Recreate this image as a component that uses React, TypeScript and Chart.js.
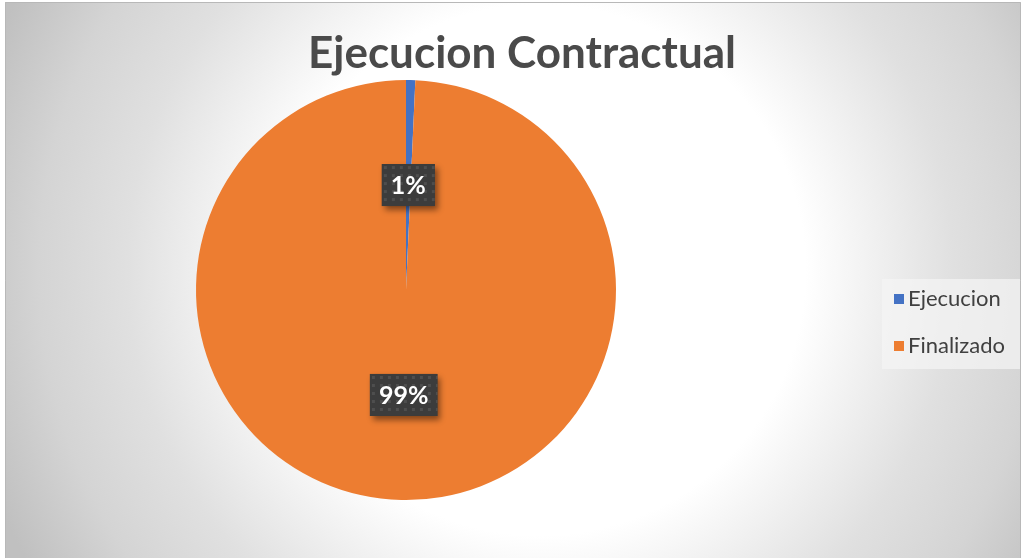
import React, { useEffect, useRef } from "react";
import { Chart, registerables } from "chart.js";

Chart.register(...registerables);

const categories = ["Ejecucion", "Finalizado"];
const seriesValues = [1, 140];
const sliceColors = ["#4472C4", "#ED7D31"];
const chartTitle = "Ejecucion Contractual";

const W = 1026;
const H = 558;

function makePattern(ctx: CanvasRenderingContext2D) {
  const c = document.createElement("canvas");
  c.width = 8;
  c.height = 8;
  const p = c.getContext("2d")!;
  p.fillStyle = "#3c3c3c";
  p.fillRect(0, 0, 8, 8);
  p.fillStyle = "#4e4e4e";
  p.fillRect(2, 2, 3, 3);
  return ctx.createPattern(c, "repeat");
}

const backgroundPlugin = {
  id: "bgPlugin",
  beforeDraw(chart: any) {
    const ctx: CanvasRenderingContext2D = chart.ctx;
    ctx.save();
    ctx.fillStyle = "#ffffff";
    ctx.fillRect(0, 0, W, H);
    const g = ctx.createRadialGradient(540, 270, 0, 540, 270, 590);
    g.addColorStop(0, "#ffffff");
    g.addColorStop(0.45, "#ffffff");
    g.addColorStop(0.7, "#e0e0e0");
    g.addColorStop(0.85, "#d4d4d4");
    g.addColorStop(1, "#c0c0c0");
    ctx.fillStyle = g;
    ctx.fillRect(5, 2, 1016, H - 2);
    ctx.strokeStyle = "#b8b8b8";
    ctx.lineWidth = 1;
    ctx.beginPath();
    ctx.moveTo(5.5, H);
    ctx.lineTo(5.5, 2.5);
    ctx.lineTo(1020.5, 2.5);
    ctx.lineTo(1020.5, H);
    ctx.stroke();
    ctx.restore();
  },
};

const overlayPlugin = {
  id: "overlayPlugin",
  afterDraw(chart: any) {
    const ctx: CanvasRenderingContext2D = chart.ctx;
    const meta = chart.getDatasetMeta(0);
    const data: number[] = chart.data.datasets[0].data;
    const total = data.reduce((a, b) => a + b, 0);
    const pattern = makePattern(ctx);

    // title
    ctx.save();
    ctx.fillStyle = "#4a4a4a";
    ctx.font = "bold 44px Lato, 'Open Sans', sans-serif";
    ctx.textAlign = "center";
    ctx.textBaseline = "middle";
    ctx.fillText(chartTitle, 522, 54);
    ctx.restore();

    // data labels
    meta.data.forEach((arc: any, i: number) => {
      const mid = (arc.startAngle + arc.endAngle) / 2;
      const r = arc.outerRadius * 0.5;
      const cx = arc.x + Math.cos(mid) * r;
      const cy = arc.y + Math.sin(mid) * r;
      const text = Math.round((data[i] / total) * 100) + "%";
      ctx.save();
      ctx.font = "bold 25px Lato, 'Open Sans', sans-serif";
      const tw = ctx.measureText(text).width;
      const bw = tw + 18;
      const bh = 42;
      ctx.shadowColor = "rgba(0,0,0,0.45)";
      ctx.shadowBlur = 6;
      ctx.shadowOffsetX = 3;
      ctx.shadowOffsetY = 4;
      ctx.fillStyle = "#3c3c3c";
      ctx.fillRect(cx - bw / 2, cy - bh / 2, bw, bh);
      ctx.shadowColor = "transparent";
      ctx.translate(cx - bw / 2, cy - bh / 2);
      ctx.fillStyle = pattern || "#3c3c3c";
      ctx.fillRect(0, 0, bw, bh);
      ctx.translate(-(cx - bw / 2), -(cy - bh / 2));
      ctx.fillStyle = "#ffffff";
      ctx.textAlign = "center";
      ctx.textBaseline = "middle";
      ctx.fillText(text, cx, cy + 1);
      ctx.restore();
    });

    // legend
    ctx.save();
    ctx.fillStyle = "rgba(245,245,245,0.7)";
    ctx.fillRect(882, 279, 138, 90);
    ctx.font = "22px Lato, 'Open Sans', sans-serif";
    ctx.textBaseline = "middle";
    chart.data.labels.forEach((lab: string, i: number) => {
      const y = 299 + i * 47;
      ctx.fillStyle = sliceColors[i];
      ctx.fillRect(894, y - 5, 10, 10);
      ctx.fillStyle = "#404040";
      ctx.fillText(lab, 908, y);
    });
    ctx.restore();
  },
};

export default function App() {
  const ref = useRef<HTMLCanvasElement>(null);
  useEffect(() => {
    document.body.style.margin = "0";
    const chart = new Chart(ref.current!, {
      type: "pie",
      data: {
        labels: categories,
        datasets: [
          {
            data: seriesValues,
            backgroundColor: sliceColors,
            borderWidth: 0,
          },
        ],
      },
      options: {
        responsive: false,
        animation: false,
        events: [],
        layout: { padding: { left: 196, right: 410, top: 80, bottom: 58 } },
        plugins: {
          legend: { display: false },
          title: { display: false },
          tooltip: { enabled: false },
        },
      },
      plugins: [backgroundPlugin, overlayPlugin],
    });
    return () => chart.destroy();
  }, []);
  return (
    <div style={{ position: "absolute", left: 0, top: 0, width: W, height: H }}>
      <canvas ref={ref} width={W} height={H} />
    </div>
  );
}
